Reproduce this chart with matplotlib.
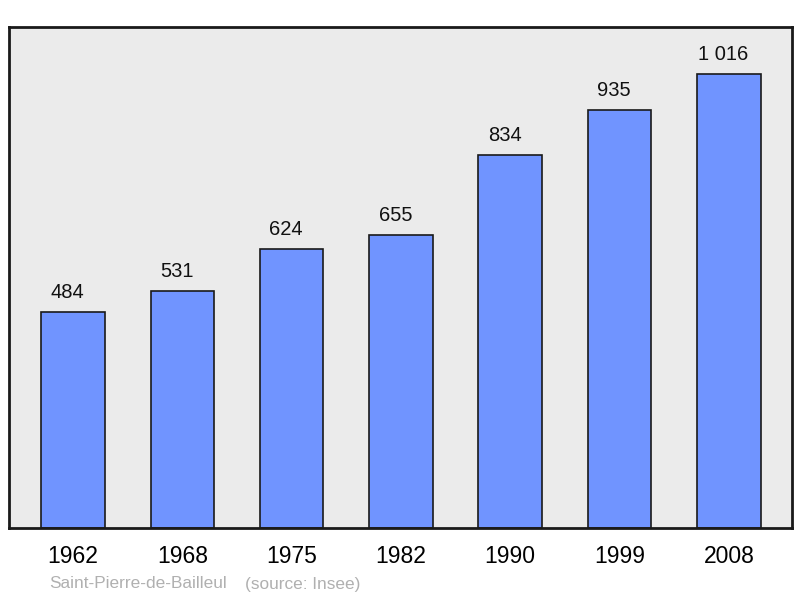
import matplotlib.pyplot as plt

plt.rcParams['font.family'] = ['Liberation Sans', 'DejaVu Sans']

# population data
years = ['1962', '1968', '1975', '1982', '1990', '1999', '2008']
population = [484, 531, 624, 655, 834, 935, 1016]
value_labels = ['484', '531', '624', '655', '834', '935', '1 016']
commune = 'Saint-Pierre-de-Bailleul'
source = '(source: Insee)'

fig = plt.figure(figsize=(8, 5.98), dpi=100)
ax = fig.add_axes([0.01125, 0.117, 0.97875, 0.838])
ax.set_facecolor('#ebebeb')

x = range(len(years))
ax.bar(x, population, width=0.58, color='#7094ff', edgecolor='#1a1a1a',
       linewidth=1.2, zorder=2)

# value labels sit a bit left of the bar centre in the original
for i, (v, lab) in enumerate(zip(population, value_labels)):
    ax.annotate(lab, (i, v), xytext=(-4, 10), textcoords='offset points',
                ha='center', va='baseline', fontsize=14.5, color='#111111')

ax.set_xlim(-0.585, 6.578)
ax.set_ylim(0, 1121)
ax.set_yticks([])
ax.set_xticks(list(x))
ax.set_xticklabels(years, fontsize=16.5)
ax.tick_params(axis='x', length=0, pad=12.5)
for s in ax.spines.values():
    s.set_linewidth(2)
    s.set_color('#1a1a1a')

fig.text(49 / 800, 1 - 584 / 598, commune, fontsize=12.4, color='#b0b0b0',
         va='center', ha='left')
fig.text(245 / 800, 1 - 584 / 598, source, fontsize=12.4, color='#b0b0b0',
         va='center', ha='left')

fig.savefig('out.png', dpi=100)
